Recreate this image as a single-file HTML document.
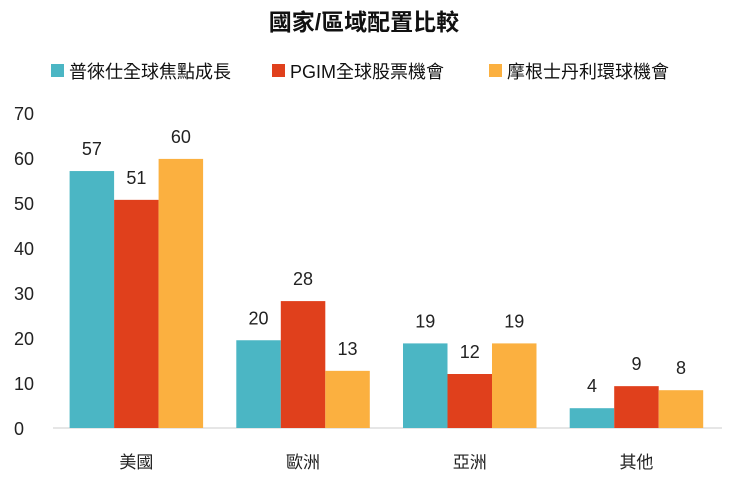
<!DOCTYPE html>
<html><head><meta charset="utf-8"><style>
body{margin:0;background:#fff;width:729px;height:477px;overflow:hidden;font-family:"Liberation Sans","Noto Sans CJK TC",sans-serif}
</style></head><body>
<svg width="729" height="477" xmlns="http://www.w3.org/2000/svg" font-family="Liberation Sans, Noto Sans CJK TC, sans-serif">
<text x="364" y="30" text-anchor="middle" font-size="23" font-weight="bold" fill="#111">國家/區域配置比較</text>
<g id="legend"></g>
<g id="axes"></g>
<g id="bars"></g>
</svg>
<script>
const categories=["美國","歐洲","亞洲","其他"];
const seriesNames=["普徠仕全球焦點成長","PGIM全球股票機會","摩根士丹利環球機會"];
const s1=[57.1,19.5,18.8,4.4];
const s2=[50.7,28.2,12.0,9.3];
const s3=[59.8,12.7,18.8,8.4];
const yTicks=[0,10,20,30,40,50,60,70];
const colors=["#4BB6C4","#E0401C","#FBB040"];
const series=[s1,s2,s3];
const NS="http://www.w3.org/2000/svg";
const y0=428,pxPer=4.5,x0=53,catW=166.7,barW=44.5;
const yS=v=>y0-v*pxPer;
const xC=i=>x0+catW*(i+0.5);
function mk(t,a,p){const e=document.createElementNS(NS,t);for(const k in a)e.setAttribute(k,a[k]);p.appendChild(e);return e;}
const ax=document.getElementById('axes');
yTicks.forEach(t=>{const e=mk('text',{x:14,y:yS(t)+7,'font-size':18,fill:'#222'},ax);e.textContent=t;

});
const al=mk('line',{x1:x0,x2:722,y1:y0,y2:y0,stroke:'#ccc','stroke-width':1},ax);


categories.forEach((c,i)=>{const e=mk('text',{x:xC(i),y:468,'text-anchor':'middle','font-size':17,fill:'#222'},ax);e.textContent=c;

});
const bg=document.getElementById('bars');
series.forEach((s,j)=>s.forEach((v,i)=>{
const x=xC(i)-1.5*barW+j*barW;
const r=mk('rect',{x:x,y:yS(v),width:barW,height:v*pxPer,fill:colors[j]},bg);


const t=mk('text',{x:x+barW/2,y:yS(v)-16,'text-anchor':'middle','font-size':18,fill:'#222'},bg);t.textContent=Math.round(v);


}));
const lg=document.getElementById('legend');
const lx=[51,272,489];
seriesNames.forEach((n,j)=>{
const g=mk('g',{},lg);


mk('rect',{x:lx[j],y:64,width:13,height:13,fill:colors[j]},g);
const t=mk('text',{x:lx[j]+18,y:78,'font-size':18,fill:'#111'},g);t.textContent=n;
});
</script>
</body></html>
